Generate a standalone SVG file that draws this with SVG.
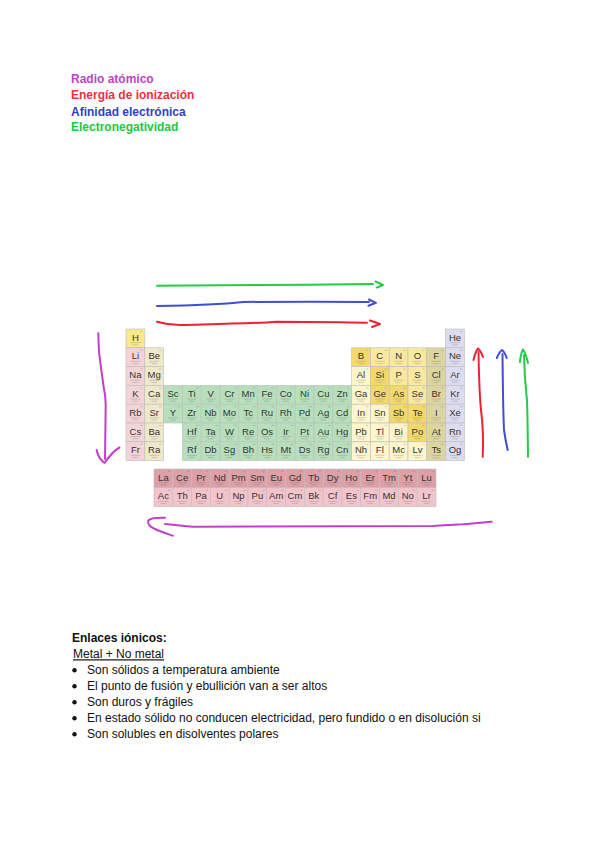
<svg xmlns="http://www.w3.org/2000/svg" xmlns:xlink="http://www.w3.org/1999/xlink" width="600" height="848" viewBox="0 0 600 848">
<style>
  text { font-family: "Liberation Sans", Arial, sans-serif; }
  .lg { font-size: 12px; font-weight: bold; }
  .sy { font-size: 9.5px; fill: #333; text-anchor: middle; }
  .h { fill: #f9e98c; } .alk { fill: #f2d4d8; } .ae { fill: #efe8cc; } .tm { fill: #b8dfbc; }
  .pt { fill: #fdf6cc; } .md { fill: #f3d86a; } .nm { fill: #f9e9a0; } .hal { fill: #ddd5a0; }
  .ng { fill: #dcdcf0; } .ln { fill: #dca0a6; } .ac { fill: #f4c4cc; }
  use.cb { stroke: #bdbdbd; stroke-width: 0.6; }
  .arw { fill: none; stroke-width: 2; stroke-linecap: round; stroke-linejoin: round; }
  .bt { font-size: 12px; fill: #111; }
</style>
<defs>
  <rect id="cb" width="18.8" height="18.8"/>
  <g id="dt" stroke="#666" stroke-opacity="0.45" stroke-width="0.6" fill="none">
    <path d="M14.2 2.5h2.6M4.5 13.6h9.8M6.5 15.8h5.8"/>
  </g>
</defs>
<rect width="600" height="848" fill="#ffffff"/>

<g id="legend">
  <text class="lg" x="71" y="83.3" fill="#bf44c4">Radio atómico</text>
  <text class="lg" x="71" y="99.3" fill="#f0303c">Energía de ionización</text>
  <text class="lg" x="71" y="115.5" fill="#3440c4">Afinidad electrónica</text>
  <text class="lg" x="71" y="131.3" fill="#22c844">Electronegatividad</text>
</g>

<g id="table">
<!-- row 1 -->
<g id="el-H" transform="translate(126,329)"><use href="#cb" class="cb h"/><text class="sy" x="9.4" y="11.5">H</text><use href="#dt"/></g>
<g id="el-He" transform="translate(445.6,329)"><use href="#cb" class="cb ng"/><text class="sy" x="9.4" y="11.5">He</text><use href="#dt"/></g>
<!-- row 2 -->
<g id="el-Li" transform="translate(126,347.8)"><use href="#cb" class="cb alk"/><text class="sy" x="9.4" y="11.5">Li</text><use href="#dt"/></g>
<g id="el-Be" transform="translate(144.8,347.8)"><use href="#cb" class="cb ae"/><text class="sy" x="9.4" y="11.5">Be</text><use href="#dt"/></g>
<g id="el-B" transform="translate(351.6,347.8)"><use href="#cb" class="cb md"/><text class="sy" x="9.4" y="11.5">B</text><use href="#dt"/></g>
<g id="el-C" transform="translate(370.4,347.8)"><use href="#cb" class="cb nm"/><text class="sy" x="9.4" y="11.5">C</text><use href="#dt"/></g>
<g id="el-N" transform="translate(389.2,347.8)"><use href="#cb" class="cb nm"/><text class="sy" x="9.4" y="11.5">N</text><use href="#dt"/></g>
<g id="el-O" transform="translate(408,347.8)"><use href="#cb" class="cb nm"/><text class="sy" x="9.4" y="11.5">O</text><use href="#dt"/></g>
<g id="el-F" transform="translate(426.8,347.8)"><use href="#cb" class="cb hal"/><text class="sy" x="9.4" y="11.5">F</text><use href="#dt"/></g>
<g id="el-Ne" transform="translate(445.6,347.8)"><use href="#cb" class="cb ng"/><text class="sy" x="9.4" y="11.5">Ne</text><use href="#dt"/></g>
<!-- row 3 -->
<g id="el-Na" transform="translate(126,366.6)"><use href="#cb" class="cb alk"/><text class="sy" x="9.4" y="11.5">Na</text><use href="#dt"/></g>
<g id="el-Mg" transform="translate(144.8,366.6)"><use href="#cb" class="cb ae"/><text class="sy" x="9.4" y="11.5">Mg</text><use href="#dt"/></g>
<g id="el-Al" transform="translate(351.6,366.6)"><use href="#cb" class="cb pt"/><text class="sy" x="9.4" y="11.5">Al</text><use href="#dt"/></g>
<g id="el-Si" transform="translate(370.4,366.6)"><use href="#cb" class="cb md"/><text class="sy" x="9.4" y="11.5">Si</text><use href="#dt"/></g>
<g id="el-P" transform="translate(389.2,366.6)"><use href="#cb" class="cb nm"/><text class="sy" x="9.4" y="11.5">P</text><use href="#dt"/></g>
<g id="el-S" transform="translate(408,366.6)"><use href="#cb" class="cb nm"/><text class="sy" x="9.4" y="11.5">S</text><use href="#dt"/></g>
<g id="el-Cl" transform="translate(426.8,366.6)"><use href="#cb" class="cb hal"/><text class="sy" x="9.4" y="11.5">Cl</text><use href="#dt"/></g>
<g id="el-Ar" transform="translate(445.6,366.6)"><use href="#cb" class="cb ng"/><text class="sy" x="9.4" y="11.5">Ar</text><use href="#dt"/></g>
<!-- row 4 -->
<g id="el-K" transform="translate(126,385.4)"><use href="#cb" class="cb alk"/><text class="sy" x="9.4" y="11.5">K</text><use href="#dt"/></g>
<g id="el-Ca" transform="translate(144.8,385.4)"><use href="#cb" class="cb ae"/><text class="sy" x="9.4" y="11.5">Ca</text><use href="#dt"/></g>
<g id="el-Sc" transform="translate(163.6,385.4)"><use href="#cb" class="cb tm"/><text class="sy" x="9.4" y="11.5">Sc</text><use href="#dt"/></g>
<g id="el-Ti" transform="translate(182.4,385.4)"><use href="#cb" class="cb tm"/><text class="sy" x="9.4" y="11.5">Ti</text><use href="#dt"/></g>
<g id="el-V" transform="translate(201.2,385.4)"><use href="#cb" class="cb tm"/><text class="sy" x="9.4" y="11.5">V</text><use href="#dt"/></g>
<g id="el-Cr" transform="translate(220,385.4)"><use href="#cb" class="cb tm"/><text class="sy" x="9.4" y="11.5">Cr</text><use href="#dt"/></g>
<g id="el-Mn" transform="translate(238.8,385.4)"><use href="#cb" class="cb tm"/><text class="sy" x="9.4" y="11.5">Mn</text><use href="#dt"/></g>
<g id="el-Fe" transform="translate(257.6,385.4)"><use href="#cb" class="cb tm"/><text class="sy" x="9.4" y="11.5">Fe</text><use href="#dt"/></g>
<g id="el-Co" transform="translate(276.4,385.4)"><use href="#cb" class="cb tm"/><text class="sy" x="9.4" y="11.5">Co</text><use href="#dt"/></g>
<g id="el-Ni" transform="translate(295.2,385.4)"><use href="#cb" class="cb tm"/><text class="sy" x="9.4" y="11.5">Ni</text><use href="#dt"/></g>
<g id="el-Cu" transform="translate(314,385.4)"><use href="#cb" class="cb tm"/><text class="sy" x="9.4" y="11.5">Cu</text><use href="#dt"/></g>
<g id="el-Zn" transform="translate(332.8,385.4)"><use href="#cb" class="cb tm"/><text class="sy" x="9.4" y="11.5">Zn</text><use href="#dt"/></g>
<g id="el-Ga" transform="translate(351.6,385.4)"><use href="#cb" class="cb pt"/><text class="sy" x="9.4" y="11.5">Ga</text><use href="#dt"/></g>
<g id="el-Ge" transform="translate(370.4,385.4)"><use href="#cb" class="cb md"/><text class="sy" x="9.4" y="11.5">Ge</text><use href="#dt"/></g>
<g id="el-As" transform="translate(389.2,385.4)"><use href="#cb" class="cb md"/><text class="sy" x="9.4" y="11.5">As</text><use href="#dt"/></g>
<g id="el-Se" transform="translate(408,385.4)"><use href="#cb" class="cb nm"/><text class="sy" x="9.4" y="11.5">Se</text><use href="#dt"/></g>
<g id="el-Br" transform="translate(426.8,385.4)"><use href="#cb" class="cb hal"/><text class="sy" x="9.4" y="11.5">Br</text><use href="#dt"/></g>
<g id="el-Kr" transform="translate(445.6,385.4)"><use href="#cb" class="cb ng"/><text class="sy" x="9.4" y="11.5">Kr</text><use href="#dt"/></g>
<!-- row 5 -->
<g id="el-Rb" transform="translate(126,404.2)"><use href="#cb" class="cb alk"/><text class="sy" x="9.4" y="11.5">Rb</text><use href="#dt"/></g>
<g id="el-Sr" transform="translate(144.8,404.2)"><use href="#cb" class="cb ae"/><text class="sy" x="9.4" y="11.5">Sr</text><use href="#dt"/></g>
<g id="el-Y" transform="translate(163.6,404.2)"><use href="#cb" class="cb tm"/><text class="sy" x="9.4" y="11.5">Y</text><use href="#dt"/></g>
<g id="el-Zr" transform="translate(182.4,404.2)"><use href="#cb" class="cb tm"/><text class="sy" x="9.4" y="11.5">Zr</text><use href="#dt"/></g>
<g id="el-Nb" transform="translate(201.2,404.2)"><use href="#cb" class="cb tm"/><text class="sy" x="9.4" y="11.5">Nb</text><use href="#dt"/></g>
<g id="el-Mo" transform="translate(220,404.2)"><use href="#cb" class="cb tm"/><text class="sy" x="9.4" y="11.5">Mo</text><use href="#dt"/></g>
<g id="el-Tc" transform="translate(238.8,404.2)"><use href="#cb" class="cb tm"/><text class="sy" x="9.4" y="11.5">Tc</text><use href="#dt"/></g>
<g id="el-Ru" transform="translate(257.6,404.2)"><use href="#cb" class="cb tm"/><text class="sy" x="9.4" y="11.5">Ru</text><use href="#dt"/></g>
<g id="el-Rh" transform="translate(276.4,404.2)"><use href="#cb" class="cb tm"/><text class="sy" x="9.4" y="11.5">Rh</text><use href="#dt"/></g>
<g id="el-Pd" transform="translate(295.2,404.2)"><use href="#cb" class="cb tm"/><text class="sy" x="9.4" y="11.5">Pd</text><use href="#dt"/></g>
<g id="el-Ag" transform="translate(314,404.2)"><use href="#cb" class="cb tm"/><text class="sy" x="9.4" y="11.5">Ag</text><use href="#dt"/></g>
<g id="el-Cd" transform="translate(332.8,404.2)"><use href="#cb" class="cb tm"/><text class="sy" x="9.4" y="11.5">Cd</text><use href="#dt"/></g>
<g id="el-In" transform="translate(351.6,404.2)"><use href="#cb" class="cb pt"/><text class="sy" x="9.4" y="11.5">In</text><use href="#dt"/></g>
<g id="el-Sn" transform="translate(370.4,404.2)"><use href="#cb" class="cb pt"/><text class="sy" x="9.4" y="11.5">Sn</text><use href="#dt"/></g>
<g id="el-Sb" transform="translate(389.2,404.2)"><use href="#cb" class="cb md"/><text class="sy" x="9.4" y="11.5">Sb</text><use href="#dt"/></g>
<g id="el-Te" transform="translate(408,404.2)"><use href="#cb" class="cb md"/><text class="sy" x="9.4" y="11.5">Te</text><use href="#dt"/></g>
<g id="el-I" transform="translate(426.8,404.2)"><use href="#cb" class="cb hal"/><text class="sy" x="9.4" y="11.5">I</text><use href="#dt"/></g>
<g id="el-Xe" transform="translate(445.6,404.2)"><use href="#cb" class="cb ng"/><text class="sy" x="9.4" y="11.5">Xe</text><use href="#dt"/></g>
<!-- row 6 -->
<g id="el-Cs" transform="translate(126,423)"><use href="#cb" class="cb alk"/><text class="sy" x="9.4" y="11.5">Cs</text><use href="#dt"/></g>
<g id="el-Ba" transform="translate(144.8,423)"><use href="#cb" class="cb ae"/><text class="sy" x="9.4" y="11.5">Ba</text><use href="#dt"/></g>
<g id="el-Hf" transform="translate(182.4,423)"><use href="#cb" class="cb tm"/><text class="sy" x="9.4" y="11.5">Hf</text><use href="#dt"/></g>
<g id="el-Ta" transform="translate(201.2,423)"><use href="#cb" class="cb tm"/><text class="sy" x="9.4" y="11.5">Ta</text><use href="#dt"/></g>
<g id="el-W" transform="translate(220,423)"><use href="#cb" class="cb tm"/><text class="sy" x="9.4" y="11.5">W</text><use href="#dt"/></g>
<g id="el-Re" transform="translate(238.8,423)"><use href="#cb" class="cb tm"/><text class="sy" x="9.4" y="11.5">Re</text><use href="#dt"/></g>
<g id="el-Os" transform="translate(257.6,423)"><use href="#cb" class="cb tm"/><text class="sy" x="9.4" y="11.5">Os</text><use href="#dt"/></g>
<g id="el-Ir" transform="translate(276.4,423)"><use href="#cb" class="cb tm"/><text class="sy" x="9.4" y="11.5">Ir</text><use href="#dt"/></g>
<g id="el-Pt" transform="translate(295.2,423)"><use href="#cb" class="cb tm"/><text class="sy" x="9.4" y="11.5">Pt</text><use href="#dt"/></g>
<g id="el-Au" transform="translate(314,423)"><use href="#cb" class="cb tm"/><text class="sy" x="9.4" y="11.5">Au</text><use href="#dt"/></g>
<g id="el-Hg" transform="translate(332.8,423)"><use href="#cb" class="cb tm"/><text class="sy" x="9.4" y="11.5">Hg</text><use href="#dt"/></g>
<g id="el-Pb" transform="translate(351.6,423)"><use href="#cb" class="cb pt"/><text class="sy" x="9.4" y="11.5">Pb</text><use href="#dt"/></g>
<g id="el-Tl" transform="translate(370.4,423)"><use href="#cb" class="cb pt"/><text class="sy" x="9.4" y="11.5">Tl</text><use href="#dt"/></g>
<g id="el-Bi" transform="translate(389.2,423)"><use href="#cb" class="cb pt"/><text class="sy" x="9.4" y="11.5">Bi</text><use href="#dt"/></g>
<g id="el-Po" transform="translate(408,423)"><use href="#cb" class="cb md"/><text class="sy" x="9.4" y="11.5">Po</text><use href="#dt"/></g>
<g id="el-At" transform="translate(426.8,423)"><use href="#cb" class="cb hal"/><text class="sy" x="9.4" y="11.5">At</text><use href="#dt"/></g>
<g id="el-Rn" transform="translate(445.6,423)"><use href="#cb" class="cb ng"/><text class="sy" x="9.4" y="11.5">Rn</text><use href="#dt"/></g>
<!-- row 7 -->
<g id="el-Fr" transform="translate(126,441.8)"><use href="#cb" class="cb alk"/><text class="sy" x="9.4" y="11.5">Fr</text><use href="#dt"/></g>
<g id="el-Ra" transform="translate(144.8,441.8)"><use href="#cb" class="cb ae"/><text class="sy" x="9.4" y="11.5">Ra</text><use href="#dt"/></g>
<g id="el-Rf" transform="translate(182.4,441.8)"><use href="#cb" class="cb tm"/><text class="sy" x="9.4" y="11.5">Rf</text><use href="#dt"/></g>
<g id="el-Db" transform="translate(201.2,441.8)"><use href="#cb" class="cb tm"/><text class="sy" x="9.4" y="11.5">Db</text><use href="#dt"/></g>
<g id="el-Sg" transform="translate(220,441.8)"><use href="#cb" class="cb tm"/><text class="sy" x="9.4" y="11.5">Sg</text><use href="#dt"/></g>
<g id="el-Bh" transform="translate(238.8,441.8)"><use href="#cb" class="cb tm"/><text class="sy" x="9.4" y="11.5">Bh</text><use href="#dt"/></g>
<g id="el-Hs" transform="translate(257.6,441.8)"><use href="#cb" class="cb tm"/><text class="sy" x="9.4" y="11.5">Hs</text><use href="#dt"/></g>
<g id="el-Mt" transform="translate(276.4,441.8)"><use href="#cb" class="cb tm"/><text class="sy" x="9.4" y="11.5">Mt</text><use href="#dt"/></g>
<g id="el-Ds" transform="translate(295.2,441.8)"><use href="#cb" class="cb tm"/><text class="sy" x="9.4" y="11.5">Ds</text><use href="#dt"/></g>
<g id="el-Rg" transform="translate(314,441.8)"><use href="#cb" class="cb tm"/><text class="sy" x="9.4" y="11.5">Rg</text><use href="#dt"/></g>
<g id="el-Cn" transform="translate(332.8,441.8)"><use href="#cb" class="cb tm"/><text class="sy" x="9.4" y="11.5">Cn</text><use href="#dt"/></g>
<g id="el-Nh" transform="translate(351.6,441.8)"><use href="#cb" class="cb pt"/><text class="sy" x="9.4" y="11.5">Nh</text><use href="#dt"/></g>
<g id="el-Fl" transform="translate(370.4,441.8)"><use href="#cb" class="cb pt"/><text class="sy" x="9.4" y="11.5">Fl</text><use href="#dt"/></g>
<g id="el-Mc" transform="translate(389.2,441.8)"><use href="#cb" class="cb pt"/><text class="sy" x="9.4" y="11.5">Mc</text><use href="#dt"/></g>
<g id="el-Lv" transform="translate(408,441.8)"><use href="#cb" class="cb pt"/><text class="sy" x="9.4" y="11.5">Lv</text><use href="#dt"/></g>
<g id="el-Ts" transform="translate(426.8,441.8)"><use href="#cb" class="cb hal"/><text class="sy" x="9.4" y="11.5">Ts</text><use href="#dt"/></g>
<g id="el-Og" transform="translate(445.6,441.8)"><use href="#cb" class="cb ng"/><text class="sy" x="9.4" y="11.5">Og</text><use href="#dt"/></g>
<!-- lanthanides -->
<g id="el-La" transform="translate(154,469)"><use href="#cb" class="cb ln"/><text class="sy" x="9.4" y="11.5">La</text><use href="#dt"/></g>
<g id="el-Ce" transform="translate(172.8,469)"><use href="#cb" class="cb ln"/><text class="sy" x="9.4" y="11.5">Ce</text><use href="#dt"/></g>
<g id="el-Pr" transform="translate(191.6,469)"><use href="#cb" class="cb ln"/><text class="sy" x="9.4" y="11.5">Pr</text><use href="#dt"/></g>
<g id="el-Nd" transform="translate(210.4,469)"><use href="#cb" class="cb ln"/><text class="sy" x="9.4" y="11.5">Nd</text><use href="#dt"/></g>
<g id="el-Pm" transform="translate(229.2,469)"><use href="#cb" class="cb ln"/><text class="sy" x="9.4" y="11.5">Pm</text><use href="#dt"/></g>
<g id="el-Sm" transform="translate(248,469)"><use href="#cb" class="cb ln"/><text class="sy" x="9.4" y="11.5">Sm</text><use href="#dt"/></g>
<g id="el-Eu" transform="translate(266.8,469)"><use href="#cb" class="cb ln"/><text class="sy" x="9.4" y="11.5">Eu</text><use href="#dt"/></g>
<g id="el-Gd" transform="translate(285.6,469)"><use href="#cb" class="cb ln"/><text class="sy" x="9.4" y="11.5">Gd</text><use href="#dt"/></g>
<g id="el-Tb" transform="translate(304.4,469)"><use href="#cb" class="cb ln"/><text class="sy" x="9.4" y="11.5">Tb</text><use href="#dt"/></g>
<g id="el-Dy" transform="translate(323.2,469)"><use href="#cb" class="cb ln"/><text class="sy" x="9.4" y="11.5">Dy</text><use href="#dt"/></g>
<g id="el-Ho" transform="translate(342,469)"><use href="#cb" class="cb ln"/><text class="sy" x="9.4" y="11.5">Ho</text><use href="#dt"/></g>
<g id="el-Er" transform="translate(360.8,469)"><use href="#cb" class="cb ln"/><text class="sy" x="9.4" y="11.5">Er</text><use href="#dt"/></g>
<g id="el-Tm" transform="translate(379.6,469)"><use href="#cb" class="cb ln"/><text class="sy" x="9.4" y="11.5">Tm</text><use href="#dt"/></g>
<g id="el-Yt" transform="translate(398.4,469)"><use href="#cb" class="cb ln"/><text class="sy" x="9.4" y="11.5">Yt</text><use href="#dt"/></g>
<g id="el-Lu" transform="translate(417.2,469)"><use href="#cb" class="cb ln"/><text class="sy" x="9.4" y="11.5">Lu</text><use href="#dt"/></g>
<!-- actinides -->
<g id="el-Ac" transform="translate(154,487.8)"><use href="#cb" class="cb ac"/><text class="sy" x="9.4" y="11.5">Ac</text><use href="#dt"/></g>
<g id="el-Th" transform="translate(172.8,487.8)"><use href="#cb" class="cb ac"/><text class="sy" x="9.4" y="11.5">Th</text><use href="#dt"/></g>
<g id="el-Pa" transform="translate(191.6,487.8)"><use href="#cb" class="cb ac"/><text class="sy" x="9.4" y="11.5">Pa</text><use href="#dt"/></g>
<g id="el-U" transform="translate(210.4,487.8)"><use href="#cb" class="cb ac"/><text class="sy" x="9.4" y="11.5">U</text><use href="#dt"/></g>
<g id="el-Np" transform="translate(229.2,487.8)"><use href="#cb" class="cb ac"/><text class="sy" x="9.4" y="11.5">Np</text><use href="#dt"/></g>
<g id="el-Pu" transform="translate(248,487.8)"><use href="#cb" class="cb ac"/><text class="sy" x="9.4" y="11.5">Pu</text><use href="#dt"/></g>
<g id="el-Am" transform="translate(266.8,487.8)"><use href="#cb" class="cb ac"/><text class="sy" x="9.4" y="11.5">Am</text><use href="#dt"/></g>
<g id="el-Cm" transform="translate(285.6,487.8)"><use href="#cb" class="cb ac"/><text class="sy" x="9.4" y="11.5">Cm</text><use href="#dt"/></g>
<g id="el-Bk" transform="translate(304.4,487.8)"><use href="#cb" class="cb ac"/><text class="sy" x="9.4" y="11.5">Bk</text><use href="#dt"/></g>
<g id="el-Cf" transform="translate(323.2,487.8)"><use href="#cb" class="cb ac"/><text class="sy" x="9.4" y="11.5">Cf</text><use href="#dt"/></g>
<g id="el-Es" transform="translate(342,487.8)"><use href="#cb" class="cb ac"/><text class="sy" x="9.4" y="11.5">Es</text><use href="#dt"/></g>
<g id="el-Fm" transform="translate(360.8,487.8)"><use href="#cb" class="cb ac"/><text class="sy" x="9.4" y="11.5">Fm</text><use href="#dt"/></g>
<g id="el-Md" transform="translate(379.6,487.8)"><use href="#cb" class="cb ac"/><text class="sy" x="9.4" y="11.5">Md</text><use href="#dt"/></g>
<g id="el-No" transform="translate(398.4,487.8)"><use href="#cb" class="cb ac"/><text class="sy" x="9.4" y="11.5">No</text><use href="#dt"/></g>
<g id="el-Lr" transform="translate(417.2,487.8)"><use href="#cb" class="cb ac"/><text class="sy" x="9.4" y="11.5">Lr</text><use href="#dt"/></g>
</g>

<g id="connectors">
  <g stroke="#22cc44" class="arw">
    <path d="M157 285.7 C220 285.5 300 285 373 284"/>
    <path d="M375.5 281.5 L383 285 L377 287.5"/>
  </g>
  <g stroke="#3f4fd0" class="arw">
    <path d="M157 306 C190 305.5 225 304 243 302 C290 301.5 330 301.5 369 302"/>
    <path d="M369 299.5 L376 302.8 L368.5 305.8"/>
  </g>
  <g stroke="#ee2233" class="arw">
    <path d="M157 321.7 C165 324 170 325 180 325 C220 324 255 323.5 277 321.7 C310 321.8 340 322 367 322.7"/>
    <path d="M370 320.5 L380 324 L372 327"/>
  </g>
  <g stroke="#ee2233" class="arw">
    <path d="M482.7 456.7 C483.5 440 483 425 481 410 C479.5 395 479 380 478.5 352"/>
    <path d="M473.5 360 C475 354 476.5 350 478 348.5 C480 350 481.5 353 483 357"/>
  </g>
  <g stroke="#3f4fd0" class="arw">
    <path d="M507.7 450 C506 443 505 437 504 430 C503 410 502.8 380 502.5 354"/>
    <path d="M496.8 358 C498.5 354 500.5 351 502 350 C504 351.5 505.5 354.5 506.7 358"/>
  </g>
  <g stroke="#22cc44" class="arw">
    <path d="M528 456.7 C527.7 430 527.5 410 527 400 C526 390 524.5 380 524 355"/>
    <path d="M520 362 C520.5 356 521.5 352 523 349.5 C525 352 526.5 357 528 363"/>
  </g>
  <g stroke="#c040c8" class="arw">
    <path d="M98.3 333.3 C98.5 342 98.8 350 99.5 356 C101 368 102.5 378 103.5 386 C105 393 105.7 398 105.7 405 C105.5 425 105.2 442 105 459"/>
    <path d="M96.7 450 C97.5 455 100 459.5 104.5 463 C108 458 113 451 119.5 447.5"/>
  </g>
  <g stroke="#c040c8" class="arw">
    <path d="M165 524 C175 524.8 185 526.5 193 526.7 C280 526.5 360 526.3 433 526 C445 525.5 455 524.5 463 524.3 C475 523.5 483 522.5 491.7 521.7"/>
    <path d="M165 517.8 C158 517.5 150.5 518 148.3 520.5 C147.5 524 150 527 155 529 C161 532 168 534 173 535.7"/>
  </g>
</g>

<g id="notes">
  <text class="bt" x="72" y="642.3" font-weight="bold">Enlaces iónicos:</text>
  <text class="bt" x="73" y="658.3" text-decoration="underline">Metal + No metal</text>
  <g fill="#111">
    <circle cx="74.5" cy="670.3" r="2.2"/>
    <circle cx="74.5" cy="686.3" r="2.2"/>
    <circle cx="74.5" cy="702.3" r="2.2"/>
    <circle cx="74.5" cy="718.3" r="2.2"/>
    <circle cx="74.5" cy="734.3" r="2.2"/>
  </g>
  <text class="bt" x="87" y="674.3">Son sólidos a temperatura ambiente</text>
  <text class="bt" x="87" y="690.3">El punto de fusión y ebullición van a ser altos</text>
  <text class="bt" x="87" y="706.3">Son duros y frágiles</text>
  <text class="bt" x="87" y="722.3">En estado sólido no conducen electricidad, pero fundido o en disolución si</text>
  <text class="bt" x="87" y="738.3">Son solubles en disolventes polares</text>
</g>
</svg>
